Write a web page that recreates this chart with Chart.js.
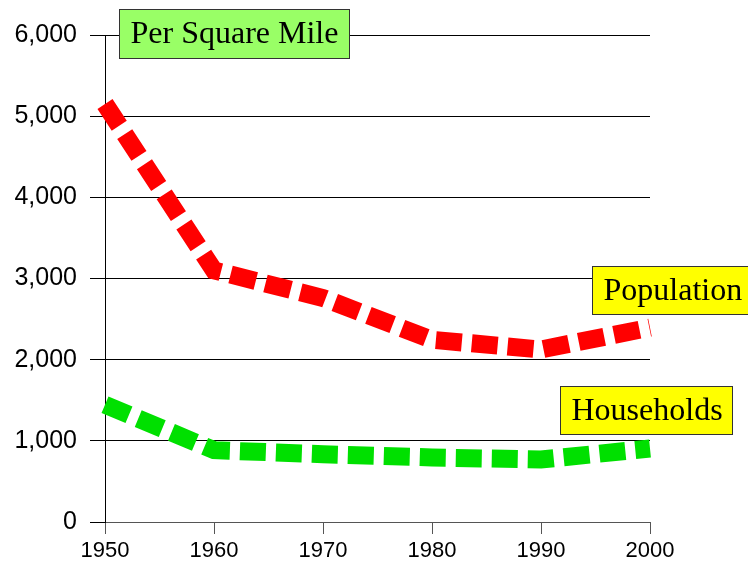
<!DOCTYPE html>
<html><head><meta charset="utf-8">
<script src="https://cdn.jsdelivr.net/npm/chart.js@4.4.1/dist/chart.umd.min.js"></script>
<style>html,body{margin:0;padding:0;background:#fff;overflow:hidden}canvas{display:block}</style>
</head><body>
<canvas id="c" width="748" height="569"></canvas>
<script>
const years = ['1950','1960','1970','1980','1990','2000'];
const population = [5150, 3100, 2760, 2245, 2125, 2395];
const households = [1445, 885, 835, 795, 770, 905];
const yTicks = [0, 1000, 2000, 3000, 4000, 5000, 6000];
const seriesNames = ['Population', 'Households'];
const chartTitle = 'Per Square Mile';

const boxLabels = {
  id: 'boxLabels',
  afterDatasetsDraw(chart, args, opts) {
    const ctx = chart.ctx;
    ctx.save();
    opts.items.forEach(it => {
      ctx.fillStyle = it.fill;
      ctx.fillRect(it.x, it.y, it.w, it.h);
      ctx.strokeStyle = '#333';
      ctx.lineWidth = 1;
      ctx.strokeRect(it.x, it.y, it.w, it.h);
      ctx.fillStyle = '#000';
      ctx.font = '32px "Liberation Serif", "Times New Roman", serif';
      ctx.textAlign = 'left';
      ctx.textBaseline = 'middle';
      ctx.fillText(it.text, it.x + it.pad, it.y + it.h / 2 + 1);
    });
    ctx.restore();
  }
};

new Chart(document.getElementById('c'), {
  type: 'line',
  data: {
    labels: years,
    datasets: [
      { label: seriesNames[0], data: population, borderColor: '#ff0000', backgroundColor: '#ff0000',
        borderWidth: 18, borderDash: [26, 10], borderCapStyle: 'butt', borderJoinStyle: 'miter',
        pointRadius: 0, tension: 0, fill: false },
      { label: seriesNames[1], data: households, borderColor: '#00e000', backgroundColor: '#00e000',
        borderWidth: 18, borderDash: [26, 10], borderCapStyle: 'butt', borderJoinStyle: 'miter',
        pointRadius: 0, tension: 0, fill: false }
    ]
  },
  options: {
    responsive: false,
    animation: false,
    devicePixelRatio: 1,
    events: [],
    layout: { padding: { top: 35, right: 98, left: 0, bottom: 0 } },
    plugins: {
      legend: { display: false },
      tooltip: { enabled: false },
      boxLabels: {
        items: [
          { text: chartTitle, x: 119.5, y: 9.5, w: 230, h: 49, pad: 11, fill: '#99ff66' },
          { text: seriesNames[0], x: 592.5, y: 266.5, w: 170, h: 48, pad: 11, fill: '#ffff00' },
          { text: seriesNames[1], x: 560.5, y: 386.5, w: 172, h: 48, pad: 11, fill: '#ffff00' }
        ]
      }
    },
    scales: {
      x: {
        type: 'category',
        offset: false,
        afterFit(s) { s.height = 47; },
        grid: { display: true, drawOnChartArea: false, drawTicks: true, tickLength: 12, color: '#555' },
        border: { display: true, color: '#555' },
        ticks: { color: '#000', font: { family: '"Liberation Sans", Arial, sans-serif', size: 22 },
                 padding: 4, maxRotation: 0, autoSkip: false }
      },
      y: {
        min: 0, max: 6000,
        afterFit(s) { s.width = 105; },
        afterBuildTicks(s) { s.ticks = yTicks.map(v => ({ value: v })); },
        grid: { color: '#000', tickLength: 15, drawTicks: true },
        border: { display: true, color: '#000' },
        ticks: { color: '#000', font: { family: '"Liberation Sans", Arial, sans-serif', size: 25 },
                 padding: 13, callback: v => Number(v).toLocaleString('en-US') }
      }
    }
  },
  plugins: [boxLabels]
});
</script>
</body></html>
